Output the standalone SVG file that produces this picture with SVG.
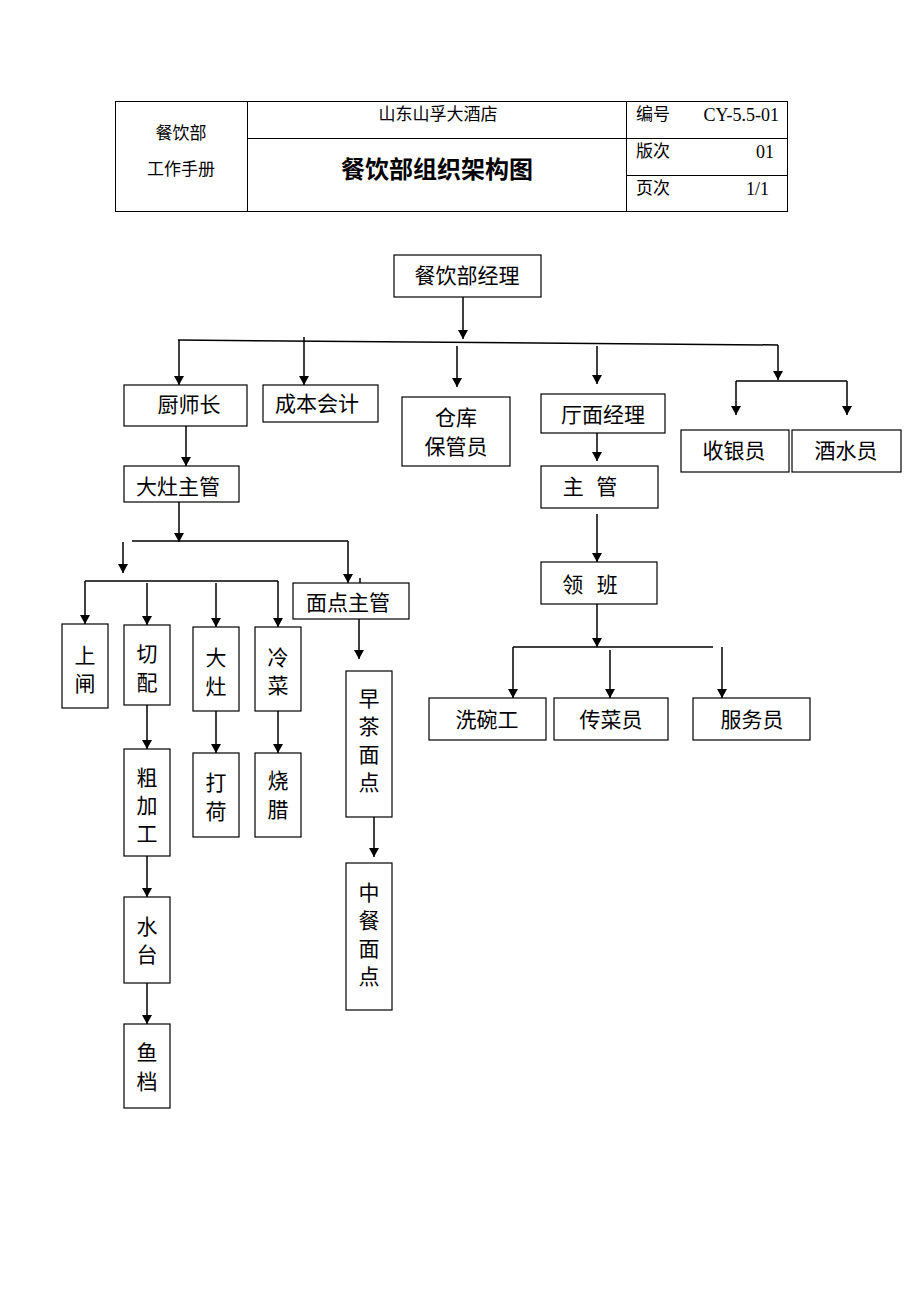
<svg xmlns="http://www.w3.org/2000/svg" width="920" height="1302" viewBox="0 0 920 1302">
<style>
.bg{fill:#fff}
.tb{fill:none;stroke:#000;stroke-width:1}
.box{fill:#fff;stroke:#000;stroke-width:1.2}
.ln{fill:none;stroke:#000;stroke-width:1.5}
.ar{fill:none;stroke:#000;stroke-width:1.5;marker-end:url(#ah)}
.t{font-family:"Noto Sans CJK SC","Noto Sans",sans-serif;font-size:21px;fill:#000;text-anchor:middle}
.h{font-family:"Noto Sans CJK SC","Noto Sans",sans-serif;font-size:17px;fill:#000}
.hc{text-anchor:middle}
.n{font-family:"Liberation Serif",serif;font-size:18px;fill:#000;text-anchor:end}
.ttl{font-family:"Noto Sans CJK SC",sans-serif;font-size:24px;font-weight:bold;fill:#000;text-anchor:middle}
</style>
<defs>
<marker id="ah" viewBox="0 0 9 10" refX="9" refY="5" markerWidth="9" markerHeight="10" markerUnits="userSpaceOnUse" orient="auto">
<path d="M0,0 L9,5 L0,10 z" fill="#000"/>
</marker>
</defs>
<rect class="bg" x="0" y="0" width="920" height="1302"/>

<g id="header">
<rect class="tb" x="115.5" y="101.5" width="672" height="110"/>
<line class="tb" x1="247.5" y1="101.5" x2="247.5" y2="211.5"/>
<line class="tb" x1="626.5" y1="101.5" x2="626.5" y2="211.5"/>
<line class="tb" x1="247.5" y1="138.5" x2="787.5" y2="138.5"/>
<line class="tb" x1="626.5" y1="175.5" x2="787.5" y2="175.5"/>
<text class="h hc" x="181" y="139">餐饮部</text>
<text class="h hc" x="181" y="175">工作手册</text>
<text class="h hc" x="438" y="120">山东山孚大酒店</text>
<text class="ttl" x="437" y="178">餐饮部组织架构图</text>
<text class="h" x="636" y="120">编号</text>
<text class="n" x="779" y="121">CY-5.5-01</text>
<text class="h" x="636" y="157">版次</text>
<text class="n" x="774" y="158">01</text>
<text class="h" x="636" y="194">页次</text>
<text class="n" x="769" y="195">1/1</text>
</g>

<g id="connectors">
<line class="ar" x1="463" y1="297" x2="463" y2="339"/>
<line class="ln" x1="178" y1="340" x2="778" y2="345"/>
<line class="ar" x1="179" y1="340" x2="179" y2="385"/>
<line class="ar" x1="304" y1="337" x2="304" y2="385"/>
<line class="ar" x1="457" y1="346" x2="457" y2="387"/>
<line class="ar" x1="597" y1="346" x2="597" y2="384"/>
<line class="ar" x1="778" y1="345" x2="778" y2="380"/>
<line class="ln" x1="736" y1="381" x2="847" y2="381"/>
<line class="ar" x1="736" y1="381" x2="736" y2="415"/>
<line class="ar" x1="847" y1="381" x2="847" y2="415"/>
<line class="ar" x1="597" y1="433" x2="597" y2="461"/>
<line class="ar" x1="186" y1="426" x2="186" y2="466"/>
<line class="ar" x1="179" y1="502" x2="179" y2="542"/>
<line class="ln" x1="132" y1="541" x2="348" y2="541"/>
<line class="ar" x1="348" y1="541" x2="348" y2="583"/>
<line class="ar" x1="123" y1="542" x2="123" y2="573"/>
<line class="ln" x1="85" y1="581" x2="278" y2="581"/>
<line class="ar" x1="85" y1="581" x2="85" y2="624"/>
<line class="ar" x1="147" y1="583" x2="147" y2="625"/>
<line class="ar" x1="216" y1="583" x2="216" y2="627"/>
<line class="ar" x1="278" y1="581" x2="278" y2="627"/>
<line class="ln" x1="360" y1="578" x2="360" y2="583"/>
<line class="ar" x1="359" y1="619" x2="359" y2="659"/>
<line class="ar" x1="147" y1="705" x2="147" y2="749"/>
<line class="ar" x1="147" y1="856" x2="147" y2="897"/>
<line class="ar" x1="147" y1="983" x2="147" y2="1024"/>
<line class="ar" x1="216" y1="711" x2="216" y2="753"/>
<line class="ar" x1="278" y1="711" x2="278" y2="753"/>
<line class="ar" x1="374" y1="817" x2="374" y2="857"/>
<line class="ar" x1="597" y1="514" x2="597" y2="562"/>
<line class="ar" x1="597" y1="604" x2="597" y2="647"/>
<line class="ln" x1="513" y1="647" x2="713" y2="647"/>
<line class="ar" x1="513" y1="647" x2="513" y2="698"/>
<line class="ar" x1="610" y1="650" x2="610" y2="698"/>
<line class="ar" x1="722" y1="647" x2="722" y2="698"/>
</g>

<g id="n-manager"><rect class="box" x="394" y="255" width="147" height="42"/><text class="t" x="467" y="283">餐饮部经理</text></g>
<g id="n-chef"><rect class="box" x="124" y="385" width="123" height="41"/><text class="t" x="189" y="412">厨师长</text></g>
<g id="n-cost"><rect class="box" x="263" y="385" width="115" height="37"/><text class="t" x="317" y="411">成本会计</text></g>
<g id="n-store"><rect class="box" x="402" y="397" width="108" height="69"/><text class="t"><tspan x="456" y="425">仓库</tspan><tspan x="456" y="454">保管员</tspan></text></g>
<g id="n-hall"><rect class="box" x="541" y="394" width="124" height="39"/><text class="t" x="603" y="422">厅面经理</text></g>
<g id="n-cashier"><rect class="box" x="681" y="430" width="108" height="42"/><text class="t" x="734" y="458">收银员</text></g>
<g id="n-bar"><rect class="box" x="792" y="430" width="109" height="42"/><text class="t" x="846" y="458">酒水员</text></g>
<g id="n-supervisor"><rect class="box" x="541" y="466" width="117" height="42"/><text class="t" x="590" y="494" word-spacing="8">主 管</text></g>
<g id="n-stove-sup"><rect class="box" x="124" y="466" width="115" height="36"/><text class="t" x="178" y="494">大灶主管</text></g>
<g id="n-pastry-sup"><rect class="box" x="293" y="583" width="116" height="36"/><text class="t" x="348" y="610">面点主管</text></g>
<g id="n-shangzha"><rect class="box" x="62" y="624" width="46" height="84"/><text class="t"><tspan x="85" y="663">上</tspan><tspan x="85" y="691">闸</tspan></text></g>
<g id="n-qiepei"><rect class="box" x="124" y="625" width="46" height="80"/><text class="t"><tspan x="147" y="661">切</tspan><tspan x="147" y="690">配</tspan></text></g>
<g id="n-dazao"><rect class="box" x="193" y="627" width="46" height="84"/><text class="t"><tspan x="216" y="665">大</tspan><tspan x="216" y="694">灶</tspan></text></g>
<g id="n-lengcai"><rect class="box" x="255" y="627" width="46" height="84"/><text class="t"><tspan x="278" y="665">冷</tspan><tspan x="278" y="693">菜</tspan></text></g>
<g id="n-zaocha"><rect class="box" x="346" y="671" width="46" height="146"/><text class="t"><tspan x="369" y="706">早</tspan><tspan x="369" y="734">茶</tspan><tspan x="369" y="762">面</tspan><tspan x="369" y="790">点</tspan></text></g>
<g id="n-cujiagong"><rect class="box" x="124" y="749" width="46" height="107"/><text class="t"><tspan x="147" y="785">粗</tspan><tspan x="147" y="813">加</tspan><tspan x="147" y="841">工</tspan></text></g>
<g id="n-dahe"><rect class="box" x="193" y="753" width="46" height="84"/><text class="t"><tspan x="216" y="790">打</tspan><tspan x="216" y="819">荷</tspan></text></g>
<g id="n-shaola"><rect class="box" x="255" y="753" width="46" height="84"/><text class="t"><tspan x="278" y="788">烧</tspan><tspan x="278" y="817">腊</tspan></text></g>
<g id="n-shuitai"><rect class="box" x="124" y="897" width="46" height="86"/><text class="t"><tspan x="147" y="934">水</tspan><tspan x="147" y="962">台</tspan></text></g>
<g id="n-yudang"><rect class="box" x="124" y="1024" width="46" height="84"/><text class="t"><tspan x="147" y="1060">鱼</tspan><tspan x="147" y="1089">档</tspan></text></g>
<g id="n-zhongcan"><rect class="box" x="346" y="863" width="46" height="147"/><text class="t"><tspan x="369" y="900">中</tspan><tspan x="369" y="928">餐</tspan><tspan x="369" y="956">面</tspan><tspan x="369" y="984">点</tspan></text></g>
<g id="n-lingban"><rect class="box" x="541" y="562" width="116" height="42"/><text class="t" x="590" y="592" word-spacing="9">领 班</text></g>
<g id="n-xiwan"><rect class="box" x="429" y="698" width="117" height="42"/><text class="t" x="487" y="727">洗碗工</text></g>
<g id="n-chuancai"><rect class="box" x="554" y="698" width="114" height="42"/><text class="t" x="611" y="727">传菜员</text></g>
<g id="n-fuwu"><rect class="box" x="693" y="698" width="117" height="42"/><text class="t" x="752" y="727">服务员</text></g>
</svg>
